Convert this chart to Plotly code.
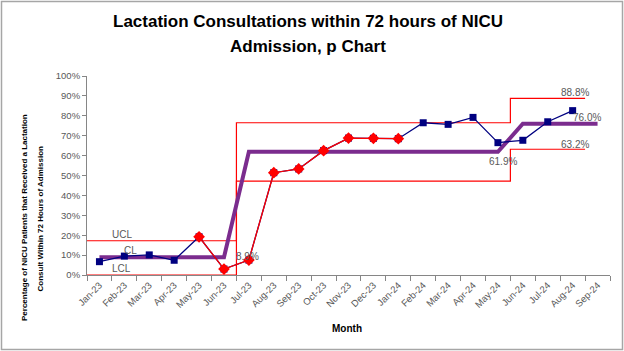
import plotly.graph_objects as go

months = ["Jan-23", "Feb-23", "Mar-23", "Apr-23", "May-23", "Jun-23", "Jul-23",
          "Aug-23", "Sep-23", "Oct-23", "Nov-23", "Dec-23", "Jan-24", "Feb-24",
          "Mar-24", "Apr-24", "May-24", "Jun-24", "Jul-24", "Aug-24", "Sep-24"]
# percentage values (None = no data)
rate = [6.7, 9.5, 10.1, 7.4, 19.2, 3.0, 7.5, 51.4, 53.3, 62.5, 68.8, 68.7,
        68.5, 76.5, 75.7, 79.2, 66.5, 67.7, 77.0, 82.6, None]
special = [None, None, None, None, 19.2, 3.0, 7.5, 51.4, 53.3, 62.5, 68.8, 68.7,
           68.5, None, None, None, None, None, None, None, None]
# phases: first month index of each phase and its limits
phase_start = [0, 6, 17]
phase_last = 19
phase_cl = [8.9, 61.9, 76.0]
phase_ucl = [17.2, 76.5, 88.8]
phase_lcl = [0.0, 47.2, 63.2]

n = len(months)
xi = list(range(n))

cl = []
for i in xi:
    p = sum(1 for s in phase_start if i >= s) - 1
    cl.append(phase_cl[p])

bx = [s - 0.5 for s in phase_start] + [phase_last + 0.5]
ucl_y = phase_ucl + [phase_ucl[-1]]
lcl_y = phase_lcl + [phase_lcl[-1]]

pct = lambda v: [None if a is None else a / 100 for a in v]

fig = go.Figure()
fig.add_trace(go.Scatter(x=bx, y=pct(ucl_y), mode="lines", line_shape="hv",
                         line=dict(color="#FF0000", width=1.2), hoverinfo="skip"))
fig.add_trace(go.Scatter(x=bx, y=pct(lcl_y), mode="lines", line_shape="hv",
                         line=dict(color="#FF0000", width=1.2), hoverinfo="skip"))
fig.add_trace(go.Scatter(x=xi, y=pct(cl), mode="lines",
                         line=dict(color="#7B2C8E", width=4)))
fig.add_trace(go.Scatter(x=xi, y=pct(rate), mode="lines+markers",
                         line=dict(color="#000080", width=1.3),
                         marker=dict(symbol="square", size=7, color="#000080")))
fig.add_trace(go.Scatter(x=xi, y=pct(special), mode="lines+markers",
                         line=dict(color="#FF0000", width=1.3),
                         marker=dict(symbol="diamond", size=9, color="#FF0000")))

gray = "#595959"
lab = dict(size=10, color=gray, family="Liberation Sans, Arial, sans-serif")
labels = [
    ("UCL", 0.89, 20.6), ("CL", 1.25, 12.1), ("LCL", 0.9, 3.5),
    ("8.9%", 5.93, 9.5), ("88.8%", 19.1, 91.6), ("76.0%", 19.57, 78.9),
    ("63.2%", 19.1, 65.8), ("61.9%", 16.2, 56.9),
]
ann = []
for t, x, y in labels:
    ann.append(dict(text=t, x=x, y=y / 100, xref="x", yref="y", showarrow=False,
                    font=lab, xanchor="center", yanchor="middle"))

L, R, T, B = 87, 14, 76, 76
W, H = 624, 351
pw, ph = W - L - R, H - T - B
def px(x): return (x - L) / pw
def py(y): return (H - B - y) / ph

bold = "Liberation Sans, Arial, sans-serif"
def pann(text, x, y, size, angle=0):
    return dict(text=text, x=px(x), y=py(y), xref="paper", yref="paper",
                showarrow=False, textangle=angle, xanchor="center", yanchor="middle",
                font=dict(size=size, color="#000", family=bold))

ann += [
    pann("<b>Lactation Consultations within 72 hours of NICU</b>", 308, 21, 17),
    pann("<b>Admission, p Chart</b>", 308, 46, 17),
    pann("<b>Percentage of NICU Patients that Received a Lactation</b>", 24, 218, 8, -90),
    pann("<b>Consult Within 72 Hours of Admission</b>", 39.5, 219, 8, -90),
    pann("<b>Month</b>", 347, 328, 10),
]

shapes = [dict(type="rect", xref="paper", yref="paper",
               x0=px(1.5), x1=px(622.5), y0=py(349.5), y1=py(1.5),
               line=dict(color="#A6A6A6", width=1.5), layer="below")]

fig.update_layout(
    width=W, height=H, margin=dict(l=L, r=R, t=T, b=B),
    paper_bgcolor="white", plot_bgcolor="white", showlegend=False,
    font=dict(family="Liberation Sans, Arial, sans-serif", size=10, color=gray),
    annotations=ann, shapes=shapes,
    xaxis=dict(range=[-0.5, n - 0.5], tickmode="array", tickvals=xi, ticktext=months,
               tickangle=-45, ticks="", showgrid=False, zeroline=False,
               showline=True, linecolor="#868686", linewidth=1,
               tickfont=dict(size=9.5, color=gray),
               minor=dict(tickmode="linear", tick0=-0.5, dtick=1, ticks="outside",
                          ticklen=5, tickcolor="#868686", showgrid=False)),
    yaxis=dict(range=[0, 1], tickmode="linear", tick0=0, dtick=0.1, tickformat=".0%",
               ticks="outside", ticklen=4, tickcolor="#868686", showgrid=False,
               zeroline=False, showline=True, linecolor="#868686", linewidth=1,
               tickfont=dict(size=9.5, color=gray)),
)
fig.write_html("out.html")
